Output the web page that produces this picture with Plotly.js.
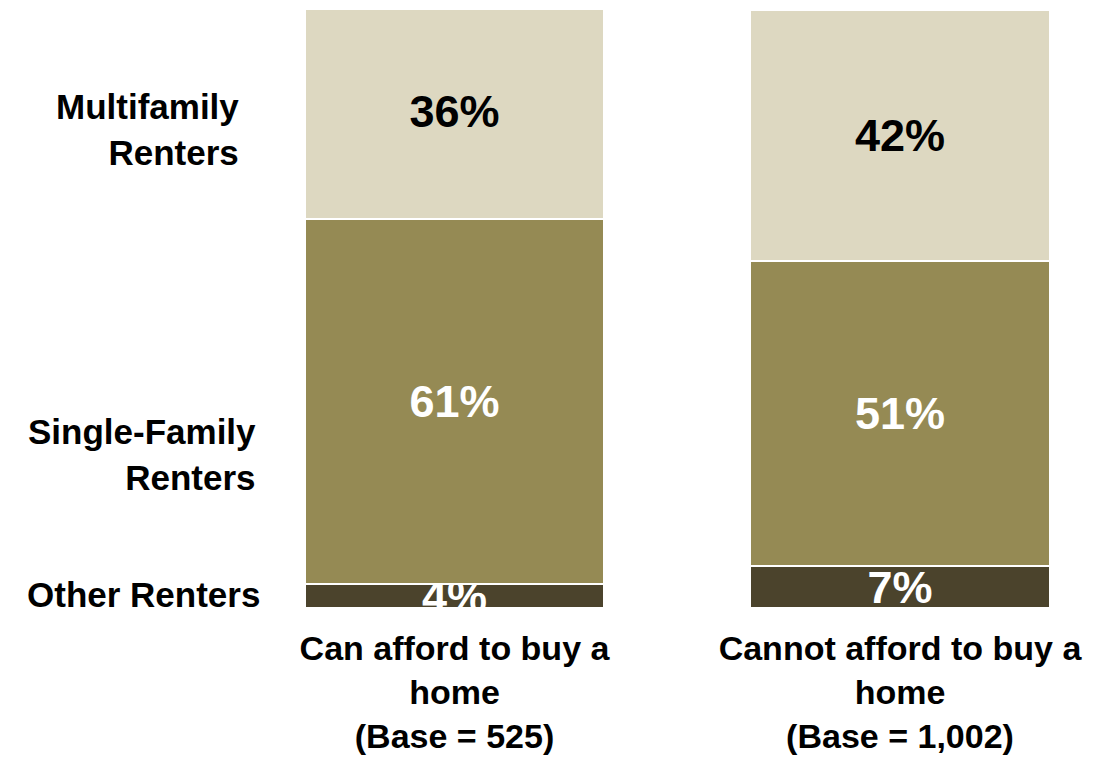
<!DOCTYPE html>
<html>
<head>
<meta charset="utf-8">
<script src="https://cdn.plot.ly/plotly-3.0.1.min.js"></script>
<style>html,body{margin:0;padding:0;background:#fff;}#chart{width:1104px;height:758px;}</style>
</head>
<body>
<div id="chart"></div>
<script>
// Data
var categories = ["Can afford to buy a<br>home<br>(Base = 525)", "Cannot afford to buy a<br>home<br>(Base = 1,002)"];
var otherRenters = [4, 7];
var singleFamilyRenters = [61, 51];
var multifamilyRenters = [36, 42];
var seriesNames = ["Other Renters", "Single-Family Renters", "Multifamily Renters"];
var rowLabels = [["Multifamily", "Renters"], ["Single-Family", "Renters"], ["Other Renters"]];

var FONT = "Liberation Sans, Arial, sans-serif";

function mk(name, vals, color, textColor) {
  return {
    type: "bar",
    name: name,
    x: categories,
    y: vals,
    marker: {color: color, line: {color: "#ffffff", width: 2}},
    text: vals.map(function(v){ return v + "%"; }),
    textposition: "inside",
    insidetextanchor: "middle",
    constraintext: "none",
    textangle: 0,
    textfont: {family: FONT, size: 45, color: textColor, weight: 700},
    hoverinfo: "skip",
    cliponaxis: true
  };
}

var data = [
  mk(seriesNames[0], otherRenters, "#4B432C", "#ffffff"),
  mk(seriesNames[1], singleFamilyRenters, "#958A54", "#ffffff"),
  mk(seriesNames[2], multifamilyRenters, "#DDD8C1", "#000000")
];

var annotations = [
  {text: rowLabels[0].join("<br>"), x: -0.0495, y: 80, xanchor: "right", align: "right"},
  {text: rowLabels[1].join("<br>"), x: -0.0281, y: 25.6, xanchor: "right", align: "right"},
  {text: rowLabels[2].join("<br>"), x: -0.0227, y: 2.3, xanchor: "right", align: "right"}
].map(function(a){
  a.xref = "paper"; a.yref = "y"; a.showarrow = false; a.yanchor = "middle";
  a.font = {family: FONT, size: 35, color: "#000000", weight: 700};
  return a;
});

var layout = {
  width: 1104, height: 758,
  margin: {l: 280, r: 30, t: 10, b: 150},
  barmode: "stack",
  bargap: 0.327,
  showlegend: false,
  paper_bgcolor: "#ffffff",
  plot_bgcolor: "#ffffff",
  xaxis: {
    type: "category",
    range: [-0.3917, 1.3906],
    showgrid: false, zeroline: false, showline: false, ticks: "",
    ticklabelstandoff: 17,
    tickfont: {family: FONT, size: 34, color: "#000000", weight: 700},
    fixedrange: true
  },
  yaxis: {
    range: [0, 100],
    showgrid: false, zeroline: false, showline: false, showticklabels: false, ticks: "",
    fixedrange: true
  },
  annotations: annotations
};

Plotly.newPlot("chart", data, layout, {displayModeBar: false, staticPlot: true});
</script>
</body>
</html>
